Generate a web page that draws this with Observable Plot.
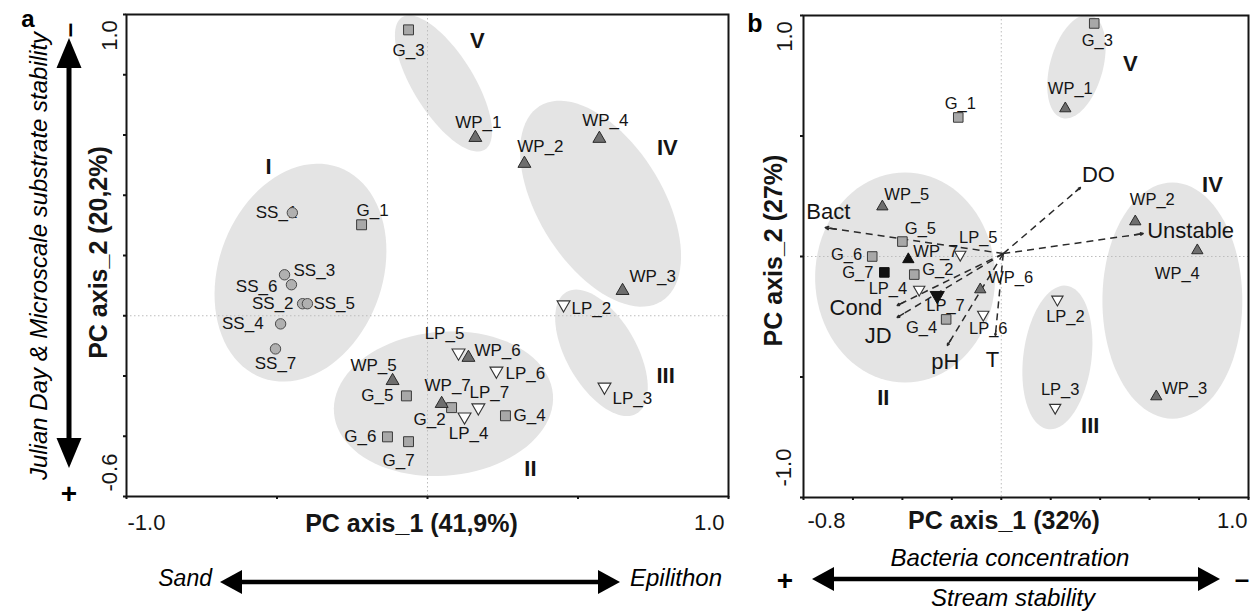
<!DOCTYPE html>
<html><head><meta charset="utf-8">
<script src="https://cdn.jsdelivr.net/npm/d3@7"></script>
<script src="https://cdn.jsdelivr.net/npm/@observablehq/plot@0.6"></script>
<style>
body{margin:0;background:#fff;}
#wrap{position:relative;width:1256px;height:612px;overflow:hidden;font-family:'Liberation Sans',Arial,sans-serif;}
#pa,#pb,#ann{position:absolute;top:0;}
#pa{left:0} #pb{left:740px} #ann{left:0;pointer-events:none}
</style></head>
<body><div id="wrap"><div id="pa"></div><div id="pb"></div><svg id="ann" width="1256" height="612"></svg></div>
<script>
// ---------------- DATA ----------------
// Panel a: sample scores [name, PC1, PC2]
const samplesA = [
 ["SS_1",-0.449,0.342],["SS_2",-0.415,0.040],["SS_3",-0.475,0.136],["SS_4",-0.488,-0.027],["SS_5",-0.399,0.040],["SS_6",-0.452,0.103],["SS_7",-0.505,-0.110],
 ["G_1",-0.219,0.302],["G_2",0.080,-0.305],["G_3",-0.063,0.949],["G_4",0.259,-0.332],["G_5",-0.070,-0.266],["G_6",-0.133,-0.402],["G_7",-0.063,-0.418],
 ["WP_1",0.159,0.591],["WP_2",0.322,0.505],["WP_3",0.648,0.083],["WP_4",0.571,0.588],["WP_5",-0.116,-0.216],["WP_6",0.136,-0.139],["WP_7",0.047,-0.292],
 ["LP_2",0.452,0.037],["LP_3",0.588,-0.236],["LP_4",0.123,-0.335],["LP_5",0.103,-0.123],["LP_6",0.229,-0.183],["LP_7",0.169,-0.305]
];
// Panel b: sample scores [name, PC1, PC2]
const samplesB = [
 ["G_1",-0.174,0.577],["G_2",-0.352,-0.075],["G_3",0.376,0.967],["G_4",-0.223,-0.261],["G_5",-0.400,0.062],["G_6",-0.522,0.000],["G_7",-0.473,-0.066],
 ["WP_1",0.259,0.614],["WP_2",0.542,0.145],["WP_3",0.627,-0.581],["WP_4",0.793,0.025],["WP_5",-0.481,0.207],["WP_6",-0.085,-0.137],["WP_7",-0.376,-0.012],
 ["LP_2",0.227,-0.178],["LP_3",0.218,-0.627],["LP_4",-0.332,-0.137],["LP_5",-0.166,0.008],["LP_6",-0.073,-0.241],["LP_7",-0.259,-0.162]
];
const highlightedB = ["G_7","WP_7","LP_7"];
// Panel b: environmental vectors
const envVars = ["Bact","DO","Unstable","Cond","JD","pH","T"];
const envPC1 = [-0.712, 0.320, 0.574, -0.421, -0.421, -0.218, -0.024];
const envPC2 = [0.120, 0.286, 0.095, -0.203, -0.253, -0.369, -0.328];
const vectorOrigin = [0.008, 0.012];
// Cluster ellipses [id, centre PC1, centre PC2, semi-major, semi-minor, angle deg, label PC1, label PC2]
const clustersA = [
 ["I",-0.422,0.143,0.372,0.272,70,-0.528,0.495],
 ["II",0.053,-0.292,0.365,0.239,5,0.342,-0.508],
 ["III",0.578,-0.123,0.233,0.116,-60,0.791,-0.199],
 ["IV",0.575,0.372,0.382,0.206,-58,0.797,0.558],
 ["V",0.053,0.771,0.259,0.100,-58,0.166,0.913]
];
const clustersB = [
 ["II",-0.389,-0.087,0.436,0.364,90,-0.477,-0.589],
 ["III",0.227,-0.419,0.300,0.138,83,0.360,-0.705],
 ["IV",0.692,-0.183,0.490,0.283,90,0.854,0.295],
 ["V",0.304,0.788,0.221,0.107,75,0.522,0.801]
];
// Axes
const xDomainA = [-1, 1], yDomainA = [-0.6, 1.0];
const xTicksA = [-1, -0.5, 0, 0.5, 1];
const yTicksA = [-0.6, -0.4, -0.2, 0, 0.2, 0.4, 0.6, 0.8, 1.0];
const xDomainB = [-0.8, 1.0], yDomainB = [-1, 1];
const xTicksB = [-0.8, -0.6, -0.4, -0.2, 0, 0.2, 0.4, 0.6, 0.8, 1.0];
const yTicksB = [-1, -0.5, 0, 0.5, 1];
const titleXA = "PC axis_1 (41,9%)", titleYA = "PC axis_2 (20,2%)";
const titleXB = "PC axis_1 (32%)", titleYB = "PC axis_2 (27%)";

// ---------------- LABEL PLACEMENT (pixel offsets, anchor) ----------------
const labelPosA = {
 SS_1:[5,0,"end"], G_1:[11,-14,"middle"], SS_3:[9,-4,"start"], SS_6:[-14,2,"end"], SS_2:[-9,0,"end"], SS_5:[6,0,"start"],
 SS_4:[-17,0,"end"], SS_7:[0,15,"middle"], G_3:[0,21,"middle"], WP_1:[3,-15,"middle"], WP_2:[16,-17,"middle"], WP_4:[6,-18,"middle"],
 WP_3:[7,-14,"start"], LP_2:[8,4,"start"], LP_3:[8,12,"start"], WP_5:[-19,-15,"middle"], G_5:[-13,0,"end"], G_6:[-11,0,"end"],
 G_7:[-10,19,"middle"], WP_7:[6,-18,"middle"], G_2:[-22,12,"middle"], LP_4:[4,17,"middle"], LP_7:[11,-15,"middle"],
 LP_5:[-14,-19,"middle"], WP_6:[6,-7,"start"], LP_6:[9,3,"start"], G_4:[8,0,"start"]
};
const labelPosB = {
 G_3:[3,17,"middle"], WP_1:[5,-20,"middle"], G_1:[2,-14,"middle"], WP_5:[2,-12,"start"], G_5:[18,-13,"middle"], LP_5:[18,-17,"middle"],
 G_6:[-10,-2,"end"], WP_7:[5,-8,"start"], G_7:[-11,0,"end"], G_2:[8,-5,"start"], WP_6:[8,-12,"start"], LP_4:[-12,-1,"end"],
 LP_7:[-11,10,"start"], G_4:[-9,8,"end"], LP_6:[5,14,"middle"], LP_2:[8,17,"middle"], LP_3:[5,-18,"middle"], WP_3:[6,-8,"start"],
 WP_2:[17,-22,"middle"], WP_4:[-20,23,"middle"]
};
const vecLabelPos = {Bact:[3,-16,"middle"], DO:[18,-13,"middle"], Unstable:[4,-3,"start"], Cond:[-15,3,"end"], JD:[-19,18,"middle"], pH:[-2,17,"middle"], T:[-3,24,"middle"]};

// ---------------- HELPERS ----------------
const FONT = "'Liberation Sans', Arial, sans-serif";
const INK = "#151515";
const triDown = {draw(ctx, size){ const y = -Math.sqrt(size / (Math.sqrt(3) * 3)); const s3 = Math.sqrt(3);
  ctx.moveTo(0, -y * 2); ctx.lineTo(-s3 * y, y); ctx.lineTo(s3 * y, y); ctx.closePath(); }};
const shapeOf = n => n.startsWith("SS") ? "circle" : n.startsWith("G") ? "square" : n.startsWith("WP") ? "tri" : "down";

function ellipsePoints(list){
  const pts = [];
  for (const [id, cx, cy, a, b, ang] of list){
    const th = ang * Math.PI / 180;
    for (let i = 0; i < 90; i++){
      const t = i / 90 * 2 * Math.PI, u = a * Math.cos(t), v = b * Math.sin(t);
      pts.push({id, x: cx + u * Math.cos(th) - v * Math.sin(th), y: cy + u * Math.sin(th) + v * Math.cos(th)});
    }
  }
  return pts;
}

function sampleMarks(rows, pos, o){
  const data = rows.map(([name, pc1, pc2]) => ({name, pc1, pc2, shape: shapeOf(name), black: (o.black || []).includes(name)}));
  const marks = [];
  for (const d of data){
    const p = pos[d.name] || [0, -14, "middle"];
    marks.push(Plot.text([d], {x: "pc1", y: "pc2", text: "name", dx: p[0], dy: p[1], textAnchor: p[2], lineAnchor: "middle", fontSize: o.fs, fill: INK}));
  }
  const f = (s, b) => data.filter(d => d.shape === s && d.black === b);
  marks.push(
    Plot.dot(f("circle", false), {x: "pc1", y: "pc2", symbol: "circle", r: o.rc, fill: "#b0b0b0", stroke: "#4a4a4a", strokeWidth: 1}),
    Plot.dot(f("square", false), {x: "pc1", y: "pc2", symbol: "square", r: o.rs, fill: "#a8a8a8", stroke: "#3a3a3a", strokeWidth: 1}),
    Plot.dot(f("square", true), {x: "pc1", y: "pc2", symbol: "square", r: o.rs, fill: "#111", stroke: "#111", strokeWidth: 1}),
    Plot.dot(f("tri", false), {x: "pc1", y: "pc2", symbol: "triangle", r: o.rt, fill: "#6e6e6e", stroke: "#2a2a2a", strokeWidth: 1}),
    Plot.dot(f("tri", true), {x: "pc1", y: "pc2", symbol: "triangle", r: o.rt, fill: "#111", stroke: "#111", strokeWidth: 1}),
    Plot.dot(f("down", false), {x: "pc1", y: "pc2", symbol: triDown, r: o.rt, fill: "#fff", stroke: "#333", strokeWidth: 1.1}),
    Plot.dot(f("down", true), {x: "pc1", y: "pc2", symbol: triDown, r: o.rt * 1.25, fill: "#111", stroke: "#111", strokeWidth: 1})
  );
  return marks;
}

function clusterMarks(list){
  return [
    Plot.line(ellipsePoints(list), {x: "x", y: "y", z: "id", fill: "#e4e4e4", stroke: "none", curve: "linear-closed"})
  ];
}
function clusterLabels(list, fs){
  return Plot.text(list, {x: d => d[6], y: d => d[7], text: d => d[0], fontSize: fs, fontWeight: "bold", fill: INK, lineAnchor: "middle"});
}

function frameMarks(xT, yT, xLab, yLab, titles, off){
  const common = {lineAnchor: "middle", fill: INK};
  return [
    Plot.axisX({ticks: xT, tickSize: 3, tickFormat: () => "", strokeWidth: 2, stroke: INK, label: null}),
    Plot.axisY({ticks: yT, tickSize: 3, tickFormat: () => "", strokeWidth: 2, stroke: INK, label: null}),
    Plot.frame({stroke: INK, strokeWidth: 2}),
    Plot.text([xLab[0]], {...common, x: d => d, frameAnchor: "bottom", text: d => d.toFixed(1), textAnchor: "start", dx: off.xl[0], dy: off.xl[1], fontSize: 22}),
    Plot.text([xLab[1]], {...common, x: d => d, frameAnchor: "bottom", text: d => d.toFixed(1), textAnchor: "end", dx: off.xr[0], dy: off.xr[1], fontSize: 22}),
    Plot.text([yLab[1]], {...common, y: d => d, frameAnchor: "left", text: d => d.toFixed(1), textAnchor: "middle", rotate: -90, dx: off.yt[0], dy: off.yt[1], fontSize: 22}),
    Plot.text([yLab[0]], {...common, y: d => d, frameAnchor: "left", text: d => d.toFixed(1), textAnchor: "middle", rotate: -90, dx: off.yb[0], dy: off.yb[1], fontSize: 22}),
    Plot.text([titles[0]], {...common, frameAnchor: "bottom", text: d => d, textAnchor: "middle", dx: off.tx[0], dy: off.tx[1], fontSize: 25, fontWeight: "bold"}),
    Plot.text([titles[1]], {...common, frameAnchor: "left", text: d => d, textAnchor: "middle", rotate: -90, dx: off.ty[0], dy: off.ty[1], fontSize: 25, fontWeight: "bold"})
  ];
}

// ---------------- PANEL A ----------------
const chartA = Plot.plot({
  width: 740, height: 612,
  marginLeft: 126, marginRight: 12, marginTop: 14, marginBottom: 116,
  x: {domain: xDomainA, label: null}, y: {domain: yDomainA, label: null},
  style: {fontFamily: FONT, fontSize: "17px", overflow: "visible", background: "transparent"},
  marks: [
    ...clusterMarks(clustersA),
    Plot.ruleX([0], {stroke: "#bdbdbd", strokeDasharray: "1.5,2.5", strokeWidth: 1}),
    Plot.ruleY([0], {stroke: "#bdbdbd", strokeDasharray: "1.5,2.5", strokeWidth: 1}),
    ...frameMarks(xTicksA, yTicksA, xDomainA, yDomainA, [titleXA, titleYA],
      {xl: [1, 26], xr: [-4, 26], yt: [-17, 21], yb: [-17, -24], tx: [-16, 27], ty: [-28, -3]}),
    clusterLabels(clustersA, 22),
    ...sampleMarks(samplesA, labelPosA, {fs: 17, rc: 5.2, rs: 5.6, rt: 4.8})
  ]
});
document.getElementById("pa").append(chartA);

// ---------------- PANEL B ----------------
const vec = envVars.map((v, i) => ({v, x: envPC1[i], y: envPC2[i]}));
const vecLabelMarks = vec.map(d => { const p = vecLabelPos[d.v];
  return Plot.text([d], {x: "x", y: "y", text: "v", dx: p[0], dy: p[1], textAnchor: p[2], lineAnchor: "middle", fontSize: 22, fill: INK}); });
const chartB = Plot.plot({
  width: 516, height: 612,
  marginLeft: 63, marginRight: 8, marginTop: 15, marginBottom: 115,
  x: {domain: xDomainB, label: null}, y: {domain: yDomainB, label: null},
  style: {fontFamily: FONT, fontSize: "16px", overflow: "visible", background: "transparent"},
  marks: [
    ...clusterMarks(clustersB),
    Plot.ruleX([0], {stroke: "#bdbdbd", strokeDasharray: "1.5,2.5", strokeWidth: 1}),
    Plot.ruleY([0], {stroke: "#bdbdbd", strokeDasharray: "1.5,2.5", strokeWidth: 1}),
    ...frameMarks(xTicksB, yTicksB, xDomainB, yDomainB, [titleXB, titleYB],
      {xl: [4, 23], xr: [-1, 23], yt: [-19, 21], yb: [-20, -30], tx: [-22, 23], ty: [-30, -6]}),
    Plot.link(vec, {x1: () => vectorOrigin[0], y1: () => vectorOrigin[1], x2: "x", y2: "y", stroke: "#2a2a2a", strokeWidth: 1.5, strokeDasharray: "7,5"}),
    Plot.arrow(vec, {x1: d => d.x - (d.x - vectorOrigin[0]) * 0.06, y1: d => d.y - (d.y - vectorOrigin[1]) * 0.06, x2: "x", y2: "y", stroke: "#2a2a2a", strokeWidth: 1.5, headLength: 8, headAngle: 50}),
    clusterLabels(clustersB, 22),
    ...vecLabelMarks,
    ...sampleMarks(samplesB, labelPosB, {fs: 16.5, rc: 4.5, rs: 5.4, rt: 4.2, black: highlightedB})
  ]
});
document.getElementById("pb").append(chartB);

// ---------------- OUTER ANNOTATIONS ----------------
const ann = d3.select("#ann");
function bigArrow(x1, y1, x2, y2, w, hl, hw){
  const dx = x2 - x1, dy = y2 - y1, L = Math.hypot(dx, dy), ux = dx / L, uy = dy / L, px = -uy, py = ux;
  ann.append("line").attr("x1", x1 + ux * (hl - 2)).attr("y1", y1 + uy * (hl - 2)).attr("x2", x2 - ux * (hl - 2)).attr("y2", y2 - uy * (hl - 2))
    .attr("stroke", "#000").attr("stroke-width", w);
  const head = (tx, ty, s) => [[tx, ty], [tx - s * ux * hl + px * hw, ty - s * uy * hl + py * hw], [tx - s * ux * hl - px * hw, ty - s * uy * hl - py * hw]];
  for (const h of [head(x2, y2, 1), head(x1, y1, -1)]) ann.append("polygon").attr("points", h.map(p => p.join(",")).join(" ")).attr("fill", "#000");
}
function txt(x, y, s, o = {}){
  const t = ann.append("text").attr("x", x).attr("y", y).text(s)
    .attr("font-family", FONT).attr("font-size", o.fs || 24).attr("fill", "#000")
    .attr("text-anchor", o.anchor || "middle").attr("dominant-baseline", o.base || "auto");
  if (o.bold) t.attr("font-weight", "bold");
  if (o.italic) t.attr("font-style", "italic");
  if (o.rot) t.attr("transform", `rotate(${o.rot},${x},${y})`);
  return t;
}
// panel letters
txt(28, 27, "a", {bold: true, fs: 24});
txt(755, 32, "b", {bold: true, fs: 25});
// panel a vertical arrow
bigArrow(69, 38, 69, 468, 5, 30, 12.5);
txt(69, 30, "–", {bold: true, fs: 26, rot: -90, base: "central"});
txt(69, 493, "+", {bold: true, fs: 28, base: "central"});
txt(38, 256, "Julian Day & Microscale substrate stability", {italic: true, fs: 24, rot: -90, base: "central"});
// panel a horizontal arrow
bigArrow(220, 582, 620, 582, 4.5, 22, 12);
txt(212, 586, "Sand", {italic: true, fs: 23, anchor: "end"});
txt(630, 586, "Epilithon", {italic: true, fs: 24, anchor: "start"});
// panel b horizontal arrow
bigArrow(812, 579, 1220, 579, 4.5, 22, 12);
txt(1010, 566, "Bacteria concentration", {italic: true, fs: 24});
txt(1013, 606, "Stream stability", {italic: true, fs: 24});
txt(785, 580, "+", {bold: true, fs: 28, base: "central"});
txt(1242, 579, "–", {bold: true, fs: 26, base: "central"});
</script>
</body></html>
